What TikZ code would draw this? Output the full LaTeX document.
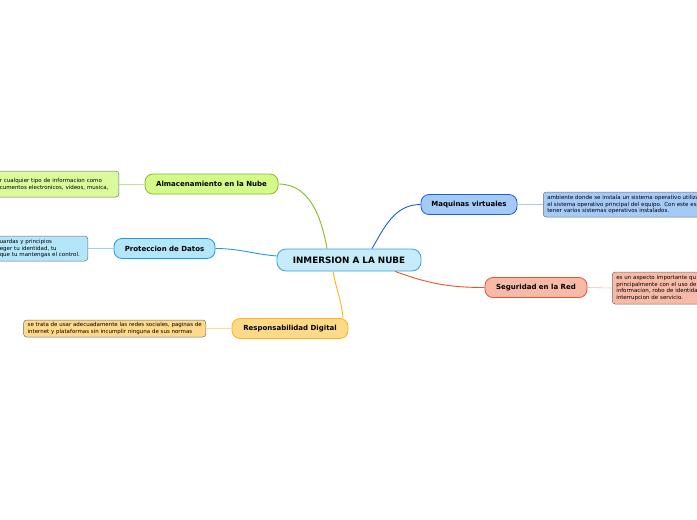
\documentclass[tikz,border=0pt]{standalone}
\usepackage{fontspec}
\setmainfont{DejaVu Sans}
\usepackage{tikz}
\usetikzlibrary{positioning}
\definecolor{nubeFill}{RGB}{198,236,250}
\definecolor{nubeLine}{RGB}{64,160,220}
\definecolor{almacFill}{RGB}{212,250,138}
\definecolor{almacLine}{RGB}{126,190,30}
\definecolor{protecFill}{RGB}{180,230,250}
\definecolor{protecLine}{RGB}{25,155,222}
\definecolor{responFill}{RGB}{254,217,138}
\definecolor{responLine}{RGB}{250,182,10}
\definecolor{maqFill}{RGB}{166,202,248}
\definecolor{maqLine}{RGB}{25,95,210}
\definecolor{segurFill}{RGB}{248,186,168}
\definecolor{segurLine}{RGB}{235,82,40}
\definecolor{txtLine}{RGB}{110,110,110}

\begin{document}
\begin{tikzpicture}[x=1pt, y=-1pt,
  topic/.style={rectangle, rounded corners=8pt, line width=0.8pt,
                minimum height=20pt, inner xsep=10pt, align=center,
                font=\fontsize{7}{8}\selectfont\bfseries},
  central/.style={topic, rounded corners=9pt, minimum height=22pt,
                  minimum width=144pt, font=\fontsize{8.8}{10}\selectfont\bfseries},
  detail/.style={rectangle, rounded corners=3pt, draw=txtLine, line width=0.5pt,
                 inner xsep=4pt, inner ysep=2pt, align=left,
                 font=\fontsize{5.5}{6.5}\selectfont},
  branch/.style={line width=0.9pt},
  twig/.style={line width=0.6pt},
]
  \useasboundingbox (0,0) rectangle (697,520);
  \clip (0,0) rectangle (697,520);

  % tema central
  \node[central, fill=nubeFill, draw=nubeLine] (nube) at (349,260) {INMERSION A LA NUBE};

  % ramas
  \node[topic, fill=almacFill, draw=almacLine, minimum width=133pt] (almac) at (211.5,184) {Almacenamiento en la Nube};
  \node[topic, fill=protecFill, draw=protecLine, minimum width=101pt] (protec) at (164.5,248.5) {Proteccion de Datos};
  \node[topic, fill=responFill, draw=responLine, minimum width=116pt] (respon) at (290,328.5) {Responsabilidad Digital};
  \node[topic, fill=maqFill, draw=maqLine, minimum width=96pt] (maq) at (469,204.5) {Maquinas virtuales};
  \node[topic, fill=segurFill, draw=segurLine, minimum width=102pt] (segur) at (536,287.5) {Seguridad en la Red};

  % detalles
  \node[detail, fill=almacFill!85!white, anchor=east, text width=115pt, minimum height=26pt] (almacTxt) at (119,184)
    {r cualquier tipo de informacion como\\cumentos electronicos, videos, musica,};
  \node[detail, fill=protecFill, anchor=east, text width=84pt, minimum height=25pt] (protecTxt) at (88,248.5)
    {uardas y principios\\eger tu identidad, tu\\que tu mantengas el control.};
  \node[detail, fill=responFill, anchor=east, minimum height=17pt] (responTxt) at (206,328.5)
    {se trata de usar adecuadamente las redes sociales, paginas de\\internet y plataformas sin incumplir ninguna de sus normas};
  \node[detail, fill=maqFill, anchor=west, text width=200pt, minimum height=25pt] (maqTxt) at (543,204.5)
    {ambiente donde se instala un sistema operativo utiliza\\el sistema operativo principal del equipo. Con este es\\tener varios sistemas operativos instalados.};
  \node[detail, fill=segurFill, anchor=west, text width=200pt, minimum height=32pt] (segurTxt) at (612,288)
    {es un aspecto importante qu\\principalmente con el uso de\\informacion, robo de identida\\interrupcion de servicio.};

  % conectores
  \draw[branch, almacLine] ([xshift=-22pt]nube.north) to[out=100, in=0] (almac.east);
  \draw[branch, protecLine] ([yshift=4pt]nube.west) to[out=175, in=0] (protec.east);
  \draw[branch, responLine] ([xshift=-16pt]nube.south) to[out=-80, in=95] ([xshift=53pt]respon.north);
  \draw[branch, maqLine] ([xshift=23pt]nube.north) to[out=60, in=180] (maq.west);
  \draw[branch, segurLine] ([xshift=46pt]nube.south) to[out=-20, in=180] (segur.west);

  \draw[twig, almacLine!45] (almac.west) -- (almacTxt.east);
  \draw[twig, protecLine!45] (protec.west) -- (protecTxt.east);
  \draw[twig, responLine!45] (respon.west) -- (responTxt.east);
  \draw[twig, maqLine!35] (maq.east) -- (maqTxt.west);
  \draw[twig, segurLine!40] (segur.east) -- (segurTxt.west);
\end{tikzpicture}
\end{document}
